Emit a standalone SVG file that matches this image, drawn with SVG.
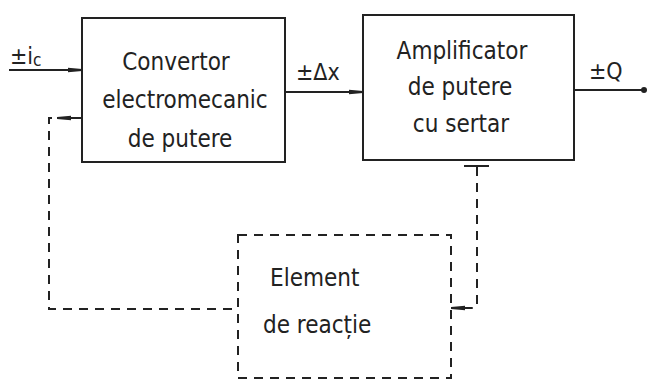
<svg xmlns="http://www.w3.org/2000/svg" width="649" height="381" viewBox="0 0 649 381">
<defs>
<style>
.box{fill:none;stroke:#222;stroke-width:2}
.dbox{fill:none;stroke:#222;stroke-width:2;stroke-dasharray:9 7}
.ln{fill:none;stroke:#222;stroke-width:2}
.dl{fill:none;stroke:#222;stroke-width:2;stroke-dasharray:9 7}
text{font-family:"DejaVu Sans Condensed","DejaVu Sans",sans-serif;font-size:24px;fill:#222}
.c{text-anchor:middle}
.s{font-size:23px}
</style>
<marker id="ah" viewBox="0 0 14 6" refX="14" refY="3" markerWidth="14" markerHeight="6" markerUnits="userSpaceOnUse" orient="auto">
<path d="M0,0.8 L14,2 L14,4 L0,5.2 Z" fill="#222"/>
</marker>
</defs>
<rect width="649" height="381" fill="#fff"/>
<g id="convertor">
<rect class="box" x="82" y="18" width="203" height="144"/>
<text class="c" x="176" y="70">Convertor</text>
<text class="c" x="185" y="108">electromecanic</text>
<text class="c" x="180" y="147">de putere</text>
</g>
<g id="amplificator">
<rect class="box" x="363" y="15" width="211" height="145"/>
<text class="c" x="462" y="59">Amplificator</text>
<text class="c" x="460" y="95">de putere</text>
<text class="c" x="461" y="132">cu sertar</text>
</g>
<g id="reactie">
<rect class="dbox" x="238" y="235" width="213" height="143"/>
<text x="270" y="286">Element</text>
<text x="263" y="333">de reacție</text>
</g>
<g id="connectors">
<line class="ln" x1="9" y1="70" x2="82" y2="70" marker-end="url(#ah)"/>
<line class="ln" x1="285" y1="92" x2="363" y2="92" marker-end="url(#ah)"/>
<line class="ln" x1="574" y1="90" x2="643" y2="90"/>
<circle cx="644" cy="90" r="3" fill="#222"/>
<line class="ln" x1="82" y1="118" x2="57" y2="118" marker-end="url(#ah)"/>
<path class="dl" d="M52,118 H49 V309 H238"/>
<line class="ln" x1="464" y1="166" x2="489" y2="166"/>
<path class="dl" d="M477,167 V305 Q477,308 474,308 H466"/>
<line class="ln" x1="466" y1="308" x2="451" y2="308" marker-end="url(#ah)"/>
<text class="s" x="10" y="64">±i<tspan font-size="17" dy="2">c</tspan></text>
<text class="s" x="296" y="80">±Δx</text>
<text class="s" x="589" y="79">±Q</text>
</g>
</svg>
